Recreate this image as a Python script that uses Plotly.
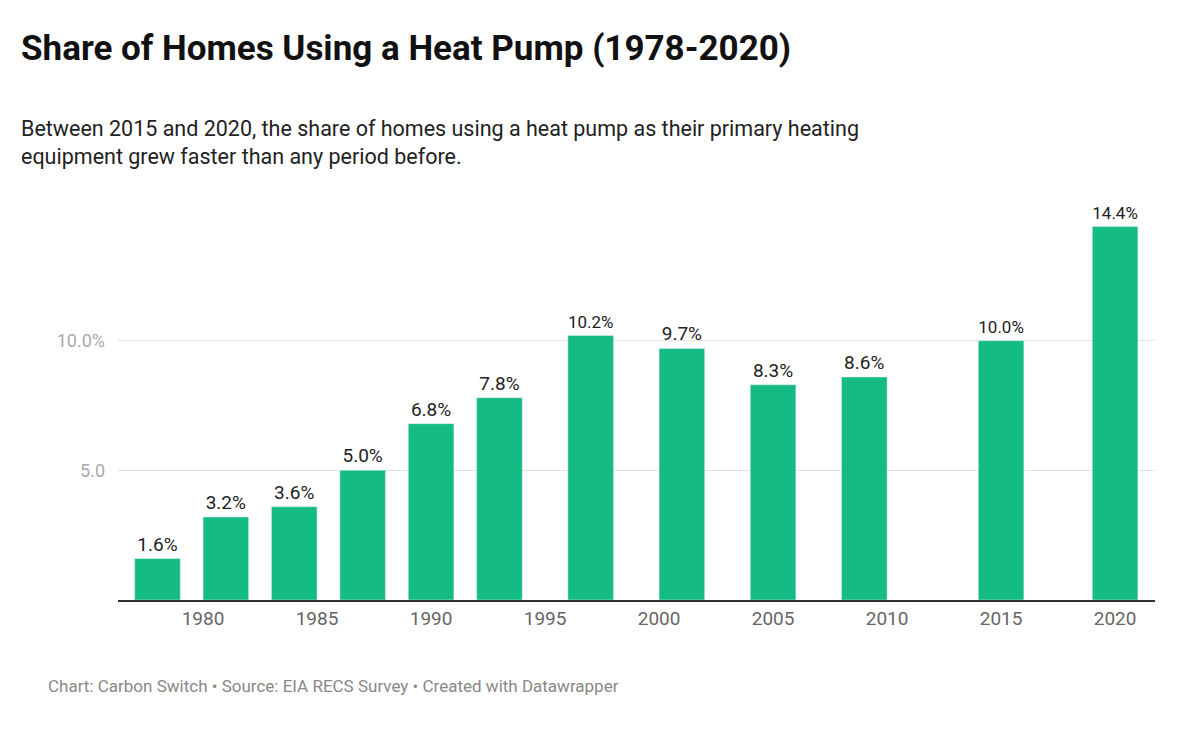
import plotly.graph_objects as go

years = [1978, 1981, 1984, 1987, 1990, 1993, 1997, 2001, 2005, 2009, 2015, 2020]
shares = [1.6, 3.2, 3.6, 5.0, 6.8, 7.8, 10.2, 9.7, 8.3, 8.6, 10.0, 14.4]
tick_years = [1980, 1985, 1990, 1995, 2000, 2005, 2010, 2015, 2020]
y_ticks = [5, 10]
y_tick_labels = ["5.0", "10.0%"]

L, T, B, R = 110, 203, 152, 53
PW, PH = 1200 - L - R, 744 - T - B

def px(x):
    return (x - 8 - L) / PW

def py(y):
    return (744 - B - (y - 8)) / PH

fig = go.Figure(go.Bar(
    x=years, y=shares, width=2.0, marker_color="#15bb84",
    text=[f"{v:.1f}%" for v in shares], textposition="outside",
    textfont=dict(size=19, color="#222", family="Roboto"), cliponaxis=False,
))
fig.update_layout(
    width=1200, height=744, plot_bgcolor="white", paper_bgcolor="white",
    margin=dict(l=L, r=R, t=T, b=B), showlegend=False,
    font=dict(family="Roboto"),
    xaxis=dict(range=[1976.27, 2021.75], tickvals=tick_years, showgrid=False,
               tickfont=dict(size=19, color="#666"), ticks="", showline=True,
               linecolor="#333", linewidth=1.5, zeroline=False),
    yaxis=dict(range=[0, 15], tickvals=y_ticks, ticktext=y_tick_labels,
               gridcolor="#e3e3e3", tickfont=dict(size=18, color="#aaa"),
               zeroline=False, ticks="", ticklabelstandoff=12),
)
fig.add_annotation(text="<b>Share of Homes Using a Heat Pump (1978-2020)</b>", x=px(19), y=py(48),
                   xref="paper", yref="paper", xanchor="left", yanchor="middle", showarrow=False,
                   font=dict(size=35, color="#111", family="Roboto"))
fig.add_annotation(text="Between 2015 and 2020, the share of homes using a heat pump as their primary heating<br>equipment grew faster than any period before.",
                   x=px(19), y=py(114), xref="paper", yref="paper", xanchor="left", yanchor="top",
                   showarrow=False, align="left", font=dict(size=21.5, color="#222", family="Roboto"))
fig.add_annotation(text="Chart: Carbon Switch • Source: EIA RECS Survey • Created with Datawrapper",
                   x=px(46), y=py(686), xref="paper", yref="paper", xanchor="left", yanchor="middle",
                   showarrow=False, font=dict(size=17, color="#888", family="Roboto"))
fig.write_html("out.html")
